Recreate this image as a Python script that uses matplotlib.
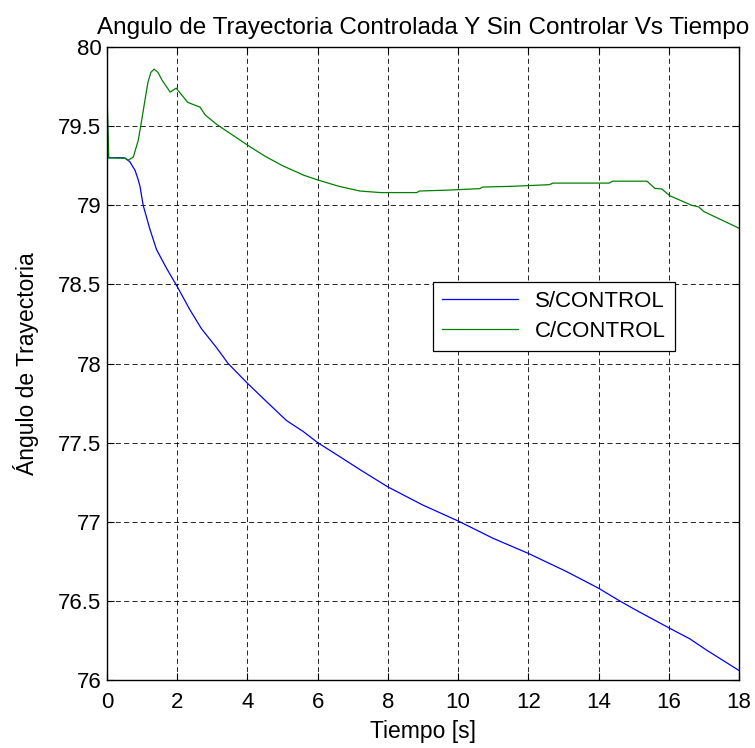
import matplotlib
matplotlib.use("Agg")
import matplotlib.pyplot as plt

plt.rcParams["font.family"] = ["Liberation Sans", "DejaVu Sans"]

# Tiempo [s] y ángulo de trayectoria sin control
t_sin = [0, 0.03, 0.47, 0.52, 0.65, 0.8, 0.89, 0.94, 1.03, 1.22, 1.41, 1.7,
         1.99, 2.36, 2.69, 3.12, 3.45, 4.0, 4.54, 5.11, 5.59, 6.0, 6.64, 7.2,
         8.0, 9.0, 10.0, 11.0, 12.0, 13.09, 14.0, 14.6, 15.08, 16.0, 16.6,
         17.07, 18.0]
ang_sin = [79.71, 79.30, 79.30, 79.297, 79.275, 79.22, 79.16, 79.12, 79.0,
           78.85, 78.72, 78.60, 78.49, 78.34, 78.22, 78.10, 78.0, 77.875,
           77.76, 77.64, 77.57, 77.50, 77.41, 77.33, 77.22, 77.105, 77.005,
           76.895, 76.80, 76.685, 76.58, 76.50, 76.44, 76.33, 76.26, 76.19,
           76.06]

# Tiempo [s] y ángulo de trayectoria con control
t_con = [0, 0.05, 0.52, 0.61, 0.75, 0.89, 0.99, 1.13, 1.17, 1.25, 1.34, 1.45,
         1.57, 1.8, 1.97, 2.3, 2.65, 2.8, 3.13, 4.07, 4.5, 5.0, 5.6, 6.0, 6.6,
         7.2, 7.8, 8.82, 8.9, 9.77, 10.62, 10.7, 11.57, 12.6, 12.7, 14.3,
         14.4, 15.38, 15.6, 15.8, 16.03, 16.65, 16.85, 17.0, 18.0]
ang_con = [79.71, 79.30, 79.297, 79.285, 79.305, 79.41, 79.54, 79.73, 79.78,
           79.84, 79.86, 79.84, 79.79, 79.715, 79.74, 79.65, 79.62, 79.57,
           79.51, 79.37, 79.31, 79.25, 79.19, 79.16, 79.12, 79.09, 79.08,
           79.08, 79.09, 79.096, 79.105, 79.115, 79.12, 79.13, 79.14, 79.14,
           79.152, 79.152, 79.107, 79.103, 79.06, 79.0, 78.99, 78.96, 78.855]

x_ticks = list(range(0, 19, 2))
y_ticks = [76, 76.5, 77, 77.5, 78, 78.5, 79, 79.5, 80]

fig = plt.figure(figsize=(7.55, 7.48), dpi=100)
ax = fig.add_axes([107 / 755, 1 - 680 / 748, 632 / 755, 633 / 748])

ax.plot(t_sin, ang_sin, color="#0000ff", lw=0.9, label="S/CONTROL")
ax.plot(t_con, ang_con, color="#008000", lw=0.9, label="C/CONTROL")

ax.set_xlim(0, 18)
ax.set_ylim(76, 80)
ax.set_xticks(x_ticks)
ax.set_yticks(y_ticks)
ax.set_yticklabels([f"{v:g}" for v in y_ticks])
ax.tick_params(direction="in", length=5, width=0.8, labelsize=16,
               top=True, right=True, pad=4)
ax.tick_params(axis="x", pad=9)
for spine in ax.spines.values():
    spine.set_linewidth(1.0)
ax.grid(True, color="k", linestyle=(0, (6, 4)), linewidth=0.6)

ax.set_title("Angulo de Trayectoria Controlada Y Sin Controlar Vs Tiempo",
             fontsize=17.5, pad=9)
ax.set_xlabel("Tiempo [s]", fontsize=16.5, labelpad=5)
ax.set_ylabel("Ángulo de Trayectoria", fontsize=16.5, labelpad=14)

leg = ax.legend(loc="upper left", bbox_to_anchor=(0.516, 0.629),
                borderaxespad=0, fontsize=16, handlelength=3.4,
                labelspacing=0.4, fancybox=False, framealpha=1,
                edgecolor="k")
leg.get_frame().set_linewidth(0.9)

fig.savefig("out.png", dpi=100)
